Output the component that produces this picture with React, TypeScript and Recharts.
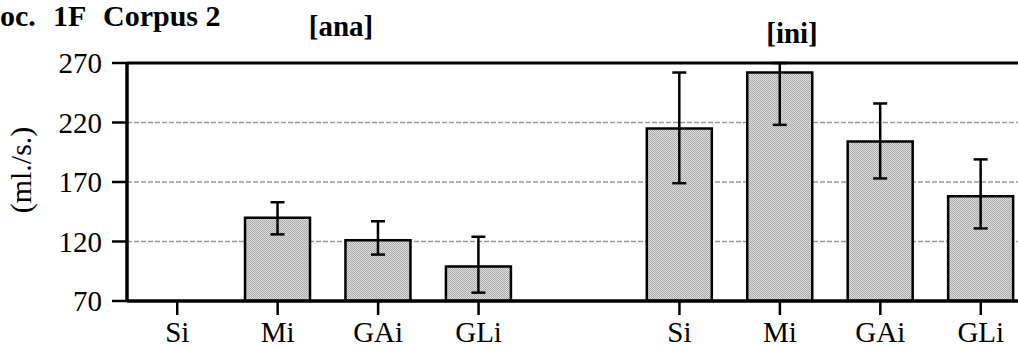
import { Bar, BarChart, CartesianGrid, ErrorBar, ReferenceLine, XAxis, YAxis } from 'recharts'

const groups = ['[ana]', '[ini]']
const categories = ['Si', 'Mi', 'GAi', 'GLi']
const yTicks = [70, 120, 170, 220, 270]
const titleWords = ['oc.', '1F', 'Corpus 2']

// mean, lower and upper end of the error bar
const anaMean = [null, 140, 121, 99]
const anaLow = [null, 126, 109, 77]
const anaHigh = [null, 153, 137, 124]

const iniMean = [215, 262, 204, 158]
const iniLow = [169, 218, 173, 131]
const iniHigh = [262, 270, 236, 189]

type Row = { key: string; label: string; value: number | null; err: [number, number] | null }

function groupRows(group: string, mean: (number | null)[], low: (number | null)[], high: (number | null)[]): Row[] {
  return categories.map((c, i) => {
    const v = mean[i]
    const lo = low[i]
    const hi = high[i]
    return {
      key: `${group}-${c}`,
      label: c,
      value: v,
      err: v != null && lo != null && hi != null ? [v - lo, hi - v] : null,
    }
  })
}

const data: Row[] = [
  ...groupRows(groups[0], anaMean, anaLow, anaHigh),
  { key: 'gap', label: '', value: null, err: null },
  ...groupRows(groups[1], iniMean, iniLow, iniHigh),
]

const serif = 'Liberation Serif, Times New Roman, serif'

function CategoryTick(props: any) {
  const { x, y, payload } = props
  const row = data.find((d) => d.key === payload.value)
  if (!row || !row.label) return null
  return (
    <g>
      <line x1={x} x2={x} y1={y} y2={y + 14} stroke="#000" strokeWidth={2.5} />
      <text x={x} y={y + 41} textAnchor="middle" fontFamily={serif} fontSize={29} fill="#000">
        {row.label}
      </text>
    </g>
  )
}

export default function App() {
  return (
    <div style={{ position: 'absolute', left: 0, top: 0, width: 1018, height: 347, overflow: 'hidden', background: '#fff' }}>
      <BarChart
        width={1045}
        height={347}
        data={data}
        margin={{ top: 63, right: 14, bottom: 0, left: 0 }}
        barCategoryGap="17.5%"
      >
        <defs>
          <pattern id="stipple" width="2" height="2" patternUnits="userSpaceOnUse">
            <rect width="2" height="2" fill="#dcdcdc" />
            <rect x="0" y="0" width="1" height="1" fill="#acacac" />
            <rect x="1" y="1" width="1" height="1" fill="#acacac" />
          </pattern>
        </defs>
        <CartesianGrid vertical={false} stroke="#9a9a9a" strokeWidth={1.5} strokeDasharray="5 2" />
        <XAxis
          dataKey="key"
          interval={0}
          tick={<CategoryTick />}
          tickLine={false}
          tickSize={0}
          tickMargin={0}
          height={46}
          axisLine={{ stroke: '#000', strokeWidth: 3.5 }}
        />
        <YAxis
          domain={[70, 270]}
          ticks={yTicks}
          allowDataOverflow
          width={127}
          tickSize={15}
          tickMargin={10}
          tickLine={{ stroke: '#000', strokeWidth: 2.5 }}
          axisLine={{ stroke: '#000', strokeWidth: 3.5 }}
          tick={{ fill: '#000', fontSize: 29, fontFamily: serif }}
          label={{
            value: '(ml./s.)',
            angle: -90,
            position: 'insideLeft',
            dx: 15,
            dy: -12,
            style: { fill: '#000', fontSize: 30, fontFamily: serif, textAnchor: 'middle' },
          }}
        />
        <ReferenceLine y={270} stroke="#000" strokeWidth={3} />
        <Bar dataKey="value" fill="url(#stipple)" stroke="#000" strokeWidth={2.5} isAnimationActive={false}>
          <ErrorBar dataKey="err" width={7} stroke="#000" strokeWidth={2.5} direction="y" />
        </Bar>
        <text y={26} fontFamily={serif} fontWeight="bold" fontSize={30} fill="#000">
          <tspan x={0}>{titleWords[0]}</tspan>
          <tspan x={53}>{titleWords[1]}</tspan>
          <tspan x={103}>{titleWords[2]}</tspan>
        </text>
        <text x={341} y={36} textAnchor="middle" fontFamily={serif} fontWeight="bold" fontSize={29} fill="#000">
          {groups[0]}
        </text>
        <text x={792} y={43} textAnchor="middle" fontFamily={serif} fontWeight="bold" fontSize={29} fill="#000">
          {groups[1]}
        </text>
      </BarChart>
    </div>
  )
}
